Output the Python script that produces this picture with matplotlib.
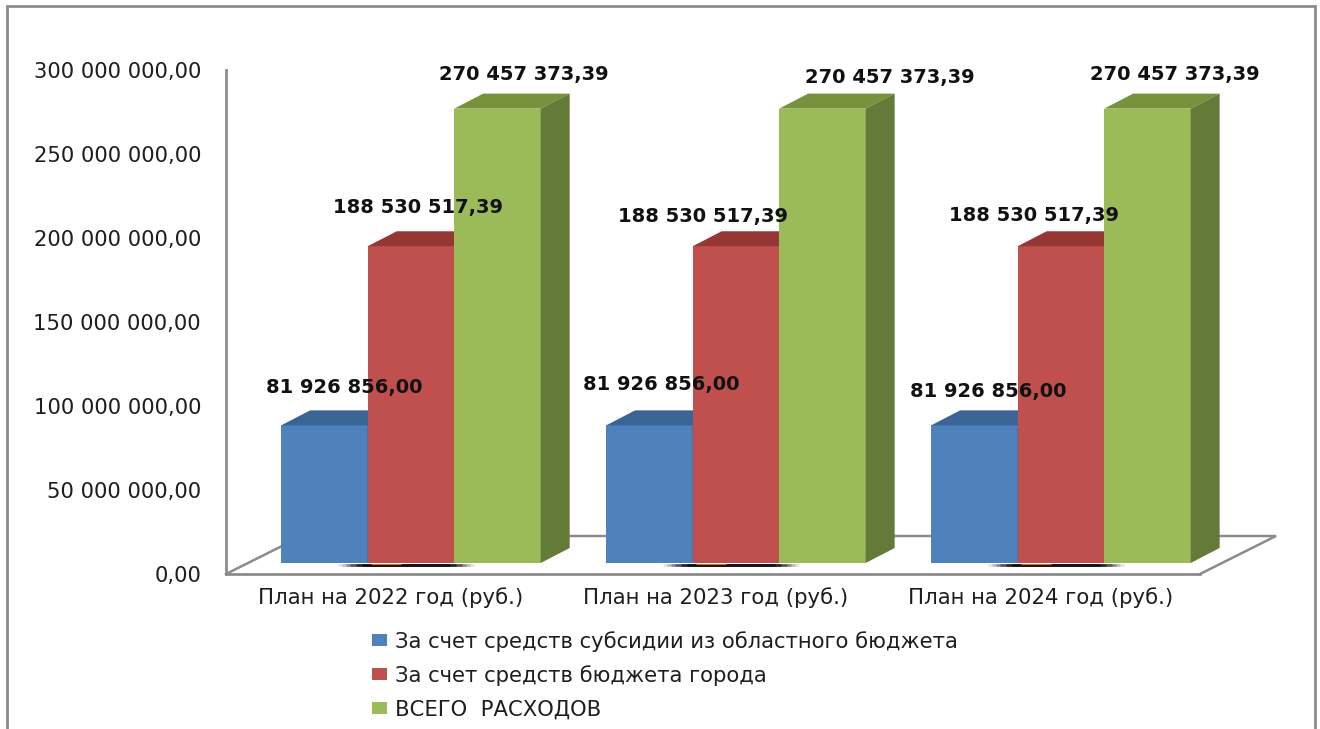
import matplotlib
matplotlib.use('Agg')
import matplotlib.pyplot as plt
from matplotlib.lines import Line2D
from matplotlib.patches import Patch

# Values
categories = ['План на 2022 год (руб.)', 'План на 2023 год (руб.)', 'План на 2024 год (руб.)']
subsidy = [81926856.00, 81926856.00, 81926856.00]
city = [188530517.39, 188530517.39, 188530517.39]
total = [270457373.39, 270457373.39, 270457373.39]
series_names = ['За счет средств субсидии из областного бюджета',
                'За счет средств бюджета города',
                'ВСЕГО  РАСХОДОВ']
y_ticks = [0, 50e6, 100e6, 150e6, 200e6, 250e6, 300e6]

front = ['#4F81BD', '#C0504D', '#9BBB59']
top = ['#3A6396', '#953735', '#76923C']
side = ['#335680', '#7F2F2D', '#647A38']
grey = '#8C8C8C'
text_color = '#1E1E1E'

W, H = 1320, 729
fig = plt.figure(figsize=(W / 100, H / 100), dpi=100)
ax = fig.add_axes([226 / W, (H - 574) / H, 974 / W, 504 / H])
ax.set_xlim(-0.569, 2.428)
ax.set_ylim(0, 300e6)

# pixel sizes turned into data units
px_x = (2.428 + 0.569) / 974
px_y = 300e6 / 504
bar_w = 86.5 * px_x
dx, dy = 29 * px_x, 15 * px_y
lift = 11 * px_y  # bars stand a little behind the front edge of the floor

# floor
fx, fy = 76 * px_x, 38 * px_y
x0, x1 = ax.get_xlim()
ax.plot([x0, x0 + fx, x1 + fx, x1], [0, fy, fy, 0], color=grey, lw=1.8,
        clip_on=False, zorder=1, solid_joinstyle='miter')

# shadow under each group, fading out at the ends
for i in range(3):
    mid = i - 5 * px_x
    for half, a in [(68, 0.12), (64, 0.2), (60, 0.3), (56, 0.45), (50, 0.7), (44, 1.0)]:
        ax.plot([mid - half * px_x, mid + half * px_x], [lift - 1.5 * px_y] * 2,
                color='#111111', alpha=a, lw=1.8, clip_on=False, zorder=2,
                solid_capstyle='butt')
    ax.plot([mid - 35 * px_x, mid - 5 * px_x], [lift - 0.6 * px_y] * 2,
            color='#C8741E', lw=0.8, clip_on=False, zorder=2, solid_capstyle='butt')

# bars with their top and side faces
labels_off = [[(20, 38), (12, 41), (14, 34)],
              [(7, 39), (-33, 30), (-27, 31)],
              [(26, 34), (67, 31), (27, 34)]]
for j, vals in enumerate([subsidy, city, total]):
    z = 3 + j
    for i, v in enumerate(vals):
        left = i + (j - 1.5) * bar_w
        t = v + lift
        ax.bar(left, v, width=bar_w, bottom=lift, align='edge', color=front[j], zorder=z, clip_on=False)
        ax.fill([left, left + dx, left + bar_w + dx, left + bar_w], [t, t + dy, t + dy, t],
                color=top[j], lw=0, zorder=z, clip_on=False)
        r = left + bar_w
        ax.fill([r, r + dx, r + dx, r], [lift, lift + dy, t + dy, t],
                color=side[j], lw=0, zorder=z, clip_on=False)
        s = f'{v:,.2f}'.replace(',', ' ').replace('.', ',')
        ax.annotate(s, (left + bar_w / 2, t), xytext=labels_off[j][i], textcoords='offset pixels',
                    ha='center', va='center', fontsize=14, fontweight='bold',
                    color='#111111', zorder=10)

# axes
for name in ['top', 'right']:
    ax.spines[name].set_visible(False)
for name in ['left', 'bottom']:
    ax.spines[name].set_color(grey)
    ax.spines[name].set_linewidth(2)
ax.patch.set_visible(False)
ax.set_yticks(y_ticks)
ax.set_yticklabels([f'{t:,.2f}'.replace(',', ' ').replace('.', ',') for t in y_ticks])
ax.set_xticks([i - 0.0625 for i in range(3)])
ax.set_xticklabels(categories)
ax.tick_params(axis='y', length=0, pad=18, labelsize=15.2, labelcolor=text_color)
ax.tick_params(axis='x', length=0, pad=9.5, labelsize=15.3, labelcolor=text_color)

# legend
handles = [Patch(facecolor=c, label=n) for c, n in zip(front, series_names)]
ax.legend(handles=handles, loc='upper left', bbox_to_anchor=(372 / W, (H - 631) / H),
          bbox_transform=fig.transFigure, frameon=False, fontsize=15.2, labelcolor=text_color,
          handlelength=0.71, handleheight=0.5, handletextpad=0.38, labelspacing=0.63,
          borderaxespad=0, borderpad=0)

# outer frame, open at the bottom
fig.add_artist(Line2D([7 / W, 7 / W, 1315 / W, 1315 / W], [0, (H - 6) / H, (H - 6) / H, 0],
                      color=grey, lw=2, solid_joinstyle='miter'))

fig.savefig('out.png', dpi=100)
